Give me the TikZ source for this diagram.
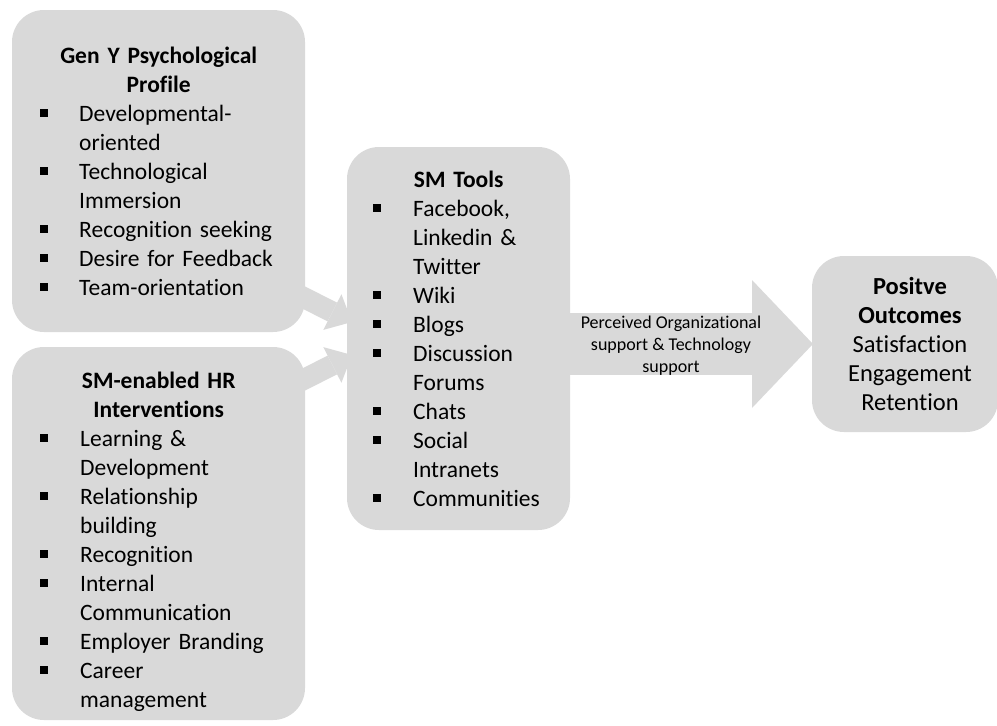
\documentclass[tikz,border=0pt]{standalone}
\usepackage{fontspec}
\setmainfont{Carlito}[Ligatures=NoCommon]
\usetikzlibrary{arrows.meta}
\definecolor{panelgray}{HTML}{D9D9D9}
\newlength{\bulpos}
\newlength{\bulind}
\newcommand{\bitem}[1]{\par\noindent\hangindent=\bulind\hangafter=1%
  \makebox[\bulind][l]{\hspace{\bulpos}\raisebox{4.5pt}{\rule{7.5pt}{7.5pt}}}#1\par}

\begin{document}
\begin{tikzpicture}[x=1pt, y=-1pt,
  panel/.style = {fill=panelgray, rounded corners=32pt, inner sep=0pt},
  blockarrow/.style = {draw=panelgray, line width=#1},
  listtext/.style = {inner sep=0pt, anchor=base west, align=left, font=\fontsize{23.5}{29}\selectfont}]

\useasboundingbox (0,0) rectangle (997,726);

% block arrows (drawn first, under the panels)
\coordinate (a1s) at (283,287);
\coordinate (a1e) at (352,322);
\coordinate (a2s) at (283,390);
\coordinate (a2e) at (352,355);
\coordinate (a3s) at (540,344);
\coordinate (a3e) at (813,344);

\draw[blockarrow=21pt, -{Triangle[length=22pt, width=40pt, line width=0pt]}] (a1s) -- (a1e);
\draw[blockarrow=21pt, -{Triangle[length=22pt, width=40pt, line width=0pt]}] (a2s) -- (a2e);
\draw[blockarrow=62pt, -{Triangle[length=61pt, width=128pt, line width=0pt]}] (a3s) -- (a3e);

% panels
\node[panel, minimum width=293pt, minimum height=322pt] (geny) at (158.5,171) {};
\node[panel, minimum width=293pt, minimum height=373pt] (hr) at (158.5,533.5) {};
\node[panel, minimum width=223pt, minimum height=383pt] (tools) at (458.5,338.5) {};
\node[panel, minimum width=186pt, minimum height=176pt] (outc) at (905,344) {};

% texts
\node[listtext, text width=293pt] (genyt) at (12,63) {%
  \setlength{\bulpos}{28pt}\setlength{\bulind}{67pt}%
  {\centering\bfseries Gen Y Psychological\\Profile\par}
  \bitem{Developmental-\newline oriented}
  \bitem{Technological\newline Immersion}
  \bitem{Recognition seeking}
  \bitem{Desire for Feedback}
  \bitem{Team-orientation}};

\node[listtext, text width=293pt] (hrt) at (12,388) {%
  \setlength{\bulpos}{28pt}\setlength{\bulind}{68pt}%
  {\centering\bfseries SM-enabled HR\\Interventions\par}
  \bitem{Learning \&\newline Development}
  \bitem{Relationship\newline building}
  \bitem{Recognition}
  \bitem{Internal\newline Communication}
  \bitem{Employer Branding}
  \bitem{Career\newline management}};

\node[listtext, text width=223pt] (toolst) at (347,187) {%
  \setlength{\bulpos}{26pt}\setlength{\bulind}{66pt}%
  {\centering\bfseries SM Tools\par}
  \bitem{Facebook,\newline Linkedin \&\newline Twitter}
  \bitem{Wiki}
  \bitem{Blogs}
  \bitem{Discussion\newline Forums}
  \bitem{Chats}
  \bitem{Social\newline Intranets}
  \bitem{Communities}};

\node[inner sep=0pt, align=center, font=\fontsize{24.5}{29}\selectfont] (outct) at (910,344)
  {\textbf{Positve}\\\textbf{Outcomes}\\Satisfaction\\Engagement\\Retention};

\node[inner sep=0pt, align=center, font=\fontsize{18}{22}\selectfont] (support) at (671,346)
  {Perceived Organizational\\support \& Technology\\support};

\end{tikzpicture}
\end{document}
